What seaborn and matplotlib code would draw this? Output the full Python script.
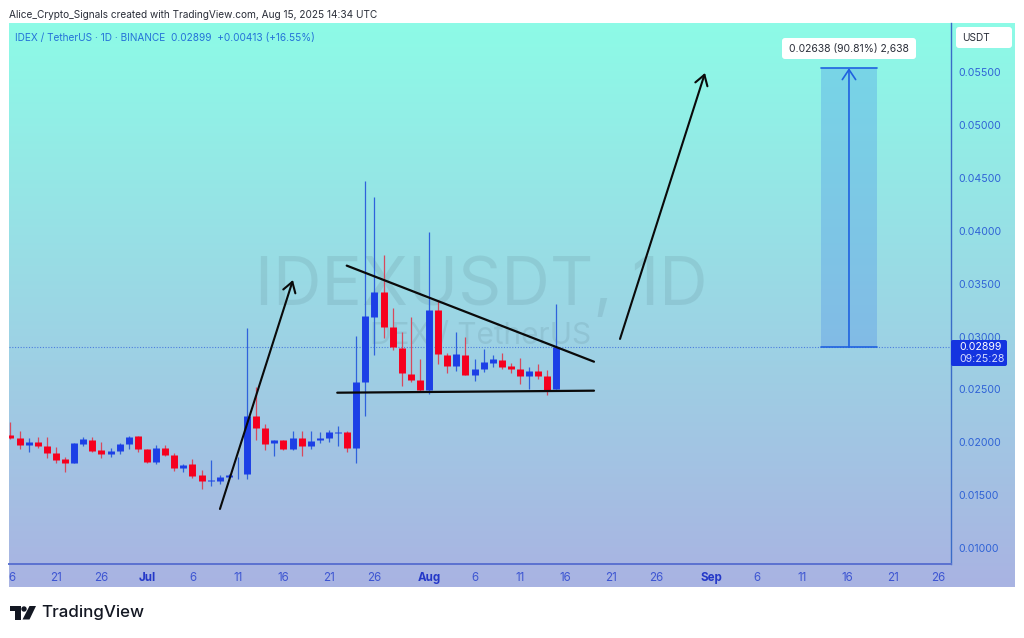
import numpy as np
import pandas as pd
import seaborn as sns
import matplotlib.pyplot as plt
from matplotlib.patches import Circle, FancyBboxPatch, Polygon, Rectangle

# days counted from Jul 1
days = list(range(-15, 46))
opens = [.02069, .02044, .01972, .02006, .01962, .01896, .01839, .01802, .01987, .02025,
         .01928, .01890, .01915, .01984, .02057, .01937, .01811, .01943, .01877, .01761,
         .01792, .01691, .01634, .01634, .01676, .01698, .01698, .02249, .02139, .01991,
         .02019, .01937, .02038, .01969, .02022, .02041, .02092, .02095, .01950, .02571,
         .03185, .03418, .03087, .02895, .02649, .02589, .02494, .03247, .02828, .02721,
         .02828, .02636, .02693, .02753, .02781, .02718, .02690, .02627, .02671, .02630,
         .02501]
highs = [.02195, .02110, .02038, .02047, .02050, .01953, .01858, .01997, .02047, .02047,
         .02006, .01943, .01990, .02060, .02060, .01940, .01972, .01972, .01896, .01792,
         .01842, .01738, .01833, .01688, .01701, .01858, .03078, .02527, .02174, .02022,
         .02022, .02111, .02111, .02107, .02098, .02117, .02155, .02107, .03005, .04473,
         .04322, .03771, .03267, .03046, .03181, .02787, .03991, .03345, .02841, .03046,
         .02992, .02791, .02879, .02828, .02841, .02747, .02794, .02715, .02737, .02683,
         .03304]
lows = [.02028, .01937, .01905, .01943, .01855, .01805, .01723, .01802, .01968, .01912,
        .01855, .01858, .01890, .01937, .01909, .01808, .01798, .01871, .01726, .01723,
        .01666, .01562, .01587, .01606, .01660, .01650, .01657, .02022, .01928, .01871,
        .01931, .01928, .01871, .01934, .01991, .02007, .01966, .01912, .01802, .02249,
        .02829, .02983, .02873, .02533, .02567, .02488, .02454, .02740, .02652, .02671,
        .02633, .02580, .02668, .02715, .02693, .02658, .02548, .02504, .02595, .02447,
        .02501]
closes = [.02038, .01975, .02006, .01962, .01896, .01830, .01802, .01990, .02028, .01921,
          .01887, .01918, .01981, .02054, .01937, .01811, .01946, .01880, .01761, .01786,
          .01685, .01631, .01641, .01676, .01691, .01704, .02249, .02133, .01985, .02022,
          .01937, .02038, .01969, .02016, .02044, .02095, .02098, .01950, .02571, .03194,
          .03424, .03087, .02898, .02653, .02586, .02494, .03254, .02832, .02718, .02832,
          .02636, .02693, .02756, .02787, .02712, .02690, .02627, .02674, .02627, .02488,
          .02901]

price_ticks = [.055, .05, .045, .04, .035, .03, .025, .02, .015, .01]
time_ticks = [-14.8, -10, -5, 0, 5, 10, 15, 20, 25, 31, 36, 41, 46, 51, 56, 62, 67, 72, 77, 82, 87]
time_labels = ['6', '21', '26', 'Jul', '6', '11', '16', '21', '26', 'Aug', '6', '11', '16', '21',
               '26', 'Sep', '6', '11', '16', '21', '26']

last_price = 0.02899
target_price = 0.05537
resistance_x, resistance_y = [21.95, 49.12], [.03670, .02762]
support_x, support_y = [20.91, 49.12], [.02469, .02488]
arrow1 = [8.02, .01370, 16.04, .03534]
arrow2 = [51.98, .02977, 61.32, .05491]
measure_x = [74.07, 77.14, 80.22]

BLUE = '#1c3fe6'
RED = '#f6001e'
AXIS_TEXT = '#2f62d6'

sns.set_theme(style='white')
plt.rcParams['font.family'] = ['Inter', 'DejaVu Sans']

W, H = 1024, 638
fig = plt.figure(figsize=(W / 100, H / 100), dpi=100, facecolor='white')


def px_axes(left, top, right, bottom, **kw):
    return fig.add_axes([left / W, 1 - bottom / H, (right - left) / W, (bottom - top) / H], **kw)


# panel background gradient
bg = px_axes(9, 23, 1015, 587)
top_col = np.array([0x8d, 0xfb, 0xe7]) / 255
bot_col = np.array([0xa9, 0xb3, 0xe2]) / 255
grad = np.linspace(0, 1, 256)[:, None, None] * (bot_col - top_col) + top_col
bg.imshow(grad, aspect='auto')
bg.axis('off')

ax = px_axes(9, 23, 951, 564)
ax.patch.set_alpha(0)
ax.set_xlim(-15.16, 88.35)
ax.set_ylim(0.0085, 0.05963)

# watermark
ax.text(0.5015, 0.4787, 'IDEXUSDT, 1D', transform=ax.transAxes, ha='center', va='baseline',
        fontsize=48.5, color='#50707f', alpha=0.15, zorder=0)
ax.text(0.4965, 0.4067, 'IDEX / TetherUS', transform=ax.transAxes, ha='center', va='baseline',
        fontsize=21.5, color='#50707f', alpha=0.15, zorder=0)

candles = pd.DataFrame({'day': days, 'open': opens, 'high': highs, 'low': lows, 'close': closes})
candles['side'] = np.where(candles['close'] >= candles['open'], 'up', 'down')
wicks = candles.melt(id_vars=['day', 'side'], value_vars=['high', 'low'], value_name='price')
bodies = candles.melt(id_vars=['day', 'side'], value_vars=['open', 'close'], value_name='price')

sns.lineplot(data=wicks, x='day', y='price', hue='side', units='day', estimator=None, ax=ax,
             palette={'up': '#2f62dc', 'down': '#d8485c'}, linewidth=0.9, legend=False,
             solid_capstyle='butt', zorder=2)
sns.lineplot(data=bodies, x='day', y='price', hue='side', units='day', estimator=None, ax=ax,
             palette={'up': BLUE, 'down': RED}, linewidth=5, legend=False,
             solid_capstyle='butt', zorder=3)

# last price line
ax.axhline(last_price, color='#2f62dc', lw=0.8, ls=(0, (1, 1.5)), alpha=0.75, zorder=1)

# triangle
sns.lineplot(x=resistance_x, y=resistance_y, color='#0a0a0a', linewidth=1.6, ax=ax, zorder=5)
sns.lineplot(x=support_x, y=support_y, color='#0a0a0a', linewidth=1.6, ax=ax, zorder=5)

for a in (arrow1, arrow2):
    ax.annotate('', xy=(a[2], a[3]), xytext=(a[0], a[1]), zorder=5,
                arrowprops=dict(arrowstyle='->,head_length=0.6,head_width=0.38', color='#0a0a0a',
                                lw=1.5, shrinkA=0, shrinkB=0))

# long position measure
ax.add_patch(Rectangle((measure_x[0], last_price), measure_x[2] - measure_x[0], target_price - last_price,
                       facecolor='#3a7fe8', alpha=0.27, lw=0, zorder=4))
ax.plot([measure_x[0], measure_x[2]], [target_price, target_price], color='#1f62e0', lw=1.2, zorder=5)
ax.plot([measure_x[0], measure_x[2]], [last_price, last_price], color='#1f62e0', lw=1.2, zorder=5)
ax.annotate('', xy=(measure_x[1], target_price), xytext=(measure_x[1], last_price), zorder=5,
            arrowprops=dict(arrowstyle='->,head_length=0.6,head_width=0.4', color='#1f62e0',
                            lw=1.2, shrinkA=0, shrinkB=0))

ax.set_xlabel('')
ax.set_ylabel('')
ax.yaxis.tick_right()
ax.set_yticks(price_ticks)
ax.set_yticklabels([f'{p:.5f}' for p in price_ticks], color=AXIS_TEXT, fontsize=7.6)
ax.set_xticks(time_ticks)
ax.set_xticklabels(time_labels, color='#3d55d2', fontsize=8.3)
for lab in ax.get_xticklabels():
    if lab.get_text() in ('Jul', 'Aug', 'Sep'):
        lab.set_fontweight('bold')
        lab.set_color('#2438c8')
ax.tick_params(axis='x', length=0, pad=5.5)
ax.tick_params(axis='y', length=0, pad=5.5)
for side in ('top', 'left'):
    ax.spines[side].set_visible(False)
ax.spines['right'].set_color('#3a6cc8')
ax.spines['bottom'].set_color('#5a72d0')
ax.spines['right'].set_linewidth(1)
ax.spines['bottom'].set_linewidth(1.4)

# overlay in pixel coordinates for the chrome around the chart
ov = fig.add_axes([0, 0, 1, 1], zorder=10)
ov.set_xlim(0, W)
ov.set_ylim(H, 0)
ov.axis('off')

ov.text(9, 15.5, 'Alice_Crypto_Signals created with TradingView.com, Aug 15, 2025 14:34 UTC',
        fontsize=7.25, color='#2a2e39', va='center')
ov.text(15, 38, 'IDEX / TetherUS · 1D · BINANCE  0.02899  +0.00413 (+16.55%)',
        fontsize=7.25, color='#2472d8', va='center')

ov.add_patch(FancyBboxPatch((784, 40), 130, 17, boxstyle='round,pad=2,rounding_size=3', fc='white', ec='none'))
ov.text(849, 48.5, '0.02638 (90.81%) 2,638', fontsize=7.5, color='#2a2e39', ha='center', va='center')

ov.add_patch(FancyBboxPatch((958, 29), 52, 17, boxstyle='round,pad=2,rounding_size=3', fc='white', ec='none'))
ov.text(962, 38, 'USDT', fontsize=7.3, color='#2a2e39', va='center')

ov.add_patch(FancyBboxPatch((952, 341), 54, 24, boxstyle='round,pad=1,rounding_size=2', fc='#1434e0', ec='none'))
ov.text(959, 347.5, '0.02899', fontsize=7.6, color='white', va='center')
ov.text(959, 359, '09:25:28', fontsize=7.6, color='#d6dcff', va='center')

# TradingView logo
ov.add_patch(Polygon([(10, 606), (21, 606), (21, 619.5), (15, 619.5), (15, 611), (10, 611)], fc='#131722', ec='none'))
ov.add_patch(Circle((24, 609), 2.7, fc='#131722', ec='none'))
ov.add_patch(Polygon([(29.5, 606), (36, 606), (29.5, 619.5), (22.5, 619.5)], fc='#131722', ec='none'))
ov.text(41.5, 612.5, 'TradingView', fontsize=12.2, fontweight='medium', color='#131722', va='center')

fig.savefig('out.png', dpi=100)
